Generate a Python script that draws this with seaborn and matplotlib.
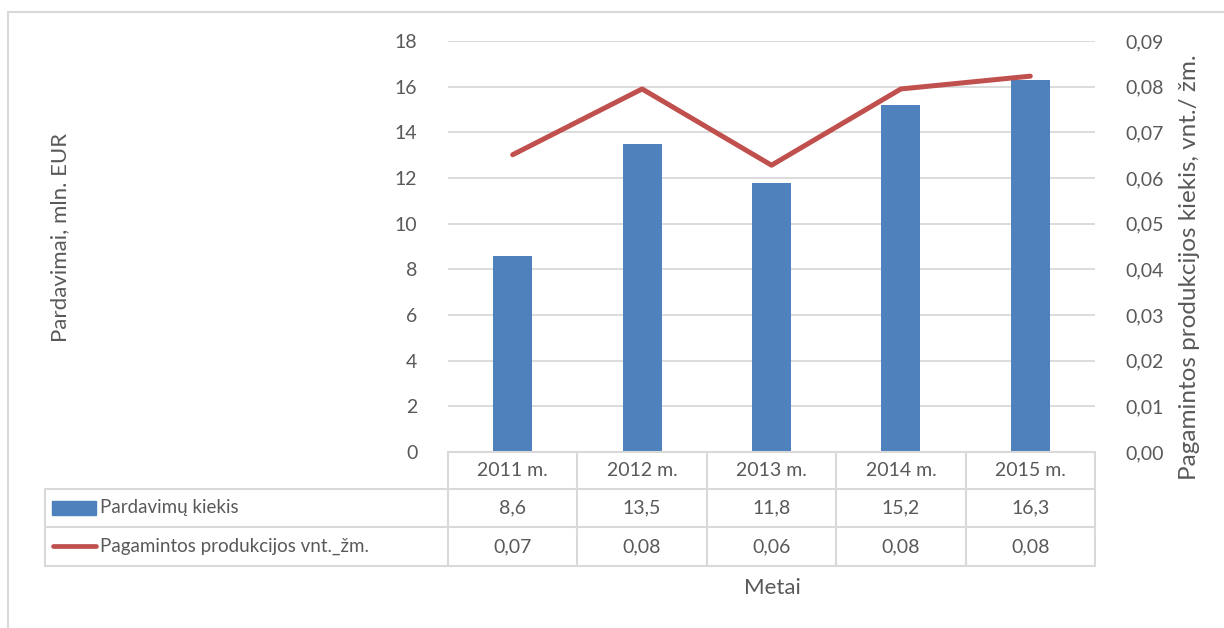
import numpy as np
import matplotlib
matplotlib.use('Agg')
import matplotlib.pyplot as plt
import seaborn as sns
import pandas as pd

years = ['2011 m.', '2012 m.', '2013 m.', '2014 m.', '2015 m.']
sales = [8.6, 13.5, 11.8, 15.2, 16.3]
production = [0.0651, 0.0795, 0.0628, 0.0795, 0.0823]

bar_name = 'Pardavimų kiekis'
line_name = 'Pagamintos produkcijos vnt._žm.'

sns.set_style('white')
plt.rcParams['font.family'] = ['Lato', 'DejaVu Sans']

BLUE = '#4F81BD'
RED = '#C0504D'
TXT = '#595959'
GRID = '#D9D9D9'
FS = 14
FT = 16

W, H = 1224, 628
fig = plt.figure(figsize=(W / 100, H / 100), dpi=100)

def fx(px):
    return px / W

def fy(py):
    return 1 - py / H

# plot area in pixels
x0, x1 = 448, 1095
y_top, y_bot = 41, 452
ax = fig.add_axes([fx(x0), fy(y_bot), fx(x1 - x0), (y_bot - y_top) / H])

df = pd.DataFrame({'year': years, 'sales': sales, 'prod': production})
sns.barplot(data=df, x='year', y='sales', color=BLUE, width=0.3, ax=ax,
            saturation=1, edgecolor='none')
ax.set_xlim(-0.5, len(years) - 0.5)
ax.set_ylim(0, 18)
ax.set_yticks(np.arange(0, 19, 2))
ax.yaxis.grid(True, color=GRID, lw=1.3)
ax.set_axisbelow(True)
ax.set_xticks([])
ax.set_xlabel('')
ax.set_ylabel('')
for s in ax.spines.values():
    s.set_visible(False)
ax.tick_params(axis='y', length=0, pad=22, labelsize=FS, labelcolor=TXT)

ax2 = ax.twinx()
sns.lineplot(x=np.arange(len(years)), y=df['prod'], color=RED, lw=3.6,
             ax=ax2, solid_capstyle='round')
ax2.set_ylim(0, 0.09)
ax2.set_yticks(np.arange(0, 0.0901, 0.01))
ax2.set_yticklabels([f'{v:.2f}'.replace('.', ',') for v in np.arange(0, 0.0901, 0.01)])
ax2.set_ylabel('')
ax2.set_xlim(-0.5, len(years) - 0.5)
for s in ax2.spines.values():
    s.set_visible(False)
ax2.tick_params(axis='y', length=0, pad=22, labelsize=FS, labelcolor=TXT)

# data table
r0, r1, r2, r3 = 452, 489, 527, 566
tl = 45
col_w = (x1 - x0) / len(years)
lkw = dict(color=GRID, lw=1.5, transform=fig.transFigure, zorder=5)
fig.add_artist(plt.Line2D([fx(x0), fx(x1)], [fy(r0), fy(r0)], **lkw))
for r in (r1, r2, r3):
    fig.add_artist(plt.Line2D([fx(tl), fx(x1)], [fy(r), fy(r)], **lkw))
fig.add_artist(plt.Line2D([fx(tl), fx(tl)], [fy(r1), fy(r3)], **lkw))
for i in range(len(years) + 1):
    xx = x0 + i * col_w
    fig.add_artist(plt.Line2D([fx(xx), fx(xx)], [fy(r0), fy(r3)], **lkw))

tkw = dict(fontsize=FS, color=TXT, ha='center', va='center')
for i, yr in enumerate(years):
    cx = fx(x0 + (i + 0.5) * col_w)
    fig.text(cx, fy((r0 + r1) / 2), yr, **tkw)
    fig.text(cx, fy((r1 + r2) / 2), f'{sales[i]:.1f}'.replace('.', ','), **tkw)
    fig.text(cx, fy((r2 + r3) / 2), f'{production[i]:.2f}'.replace('.', ','), **tkw)

# legend keys in the table
fig.add_artist(plt.Rectangle((fx(52), fy(515)), fx(44), 14 / H, color=BLUE,
                             transform=fig.transFigure))
fig.add_artist(plt.Line2D([fx(53), fx(96)], [fy(546), fy(546)], color=RED, lw=3.4,
                          solid_capstyle='round', transform=fig.transFigure))
fig.text(fx(100), fy((r1 + r2) / 2), bar_name, fontsize=13.5, color=TXT, ha='left', va='center')
fig.text(fx(100), fy((r2 + r3) / 2), line_name, fontsize=13.5, color=TXT, ha='left', va='center')

# axis titles
fig.text(fx(60), fy(237), 'Pardavimai, mln. EUR', rotation=90, fontsize=FT,
         color=TXT, ha='center', va='center')
fig.text(fx(1190), fy(267), 'Pagamintos produkcijos kiekis, vnt./ žm.', rotation=90,
         fontsize=17.5, color=TXT, ha='center', va='center')
fig.text(fx(772), fy(588), 'Metai', fontsize=FT, color=TXT, ha='center', va='center')

# chart border (top and left only visible)
bkw = dict(color='#D9D9D9', lw=1.5, transform=fig.transFigure)
fig.add_artist(plt.Line2D([fx(8), 1], [fy(12), fy(12)], **bkw))
fig.add_artist(plt.Line2D([fx(8), fx(8)], [fy(12), 0], **bkw))

fig.savefig('out.png', dpi=100, facecolor='white')
